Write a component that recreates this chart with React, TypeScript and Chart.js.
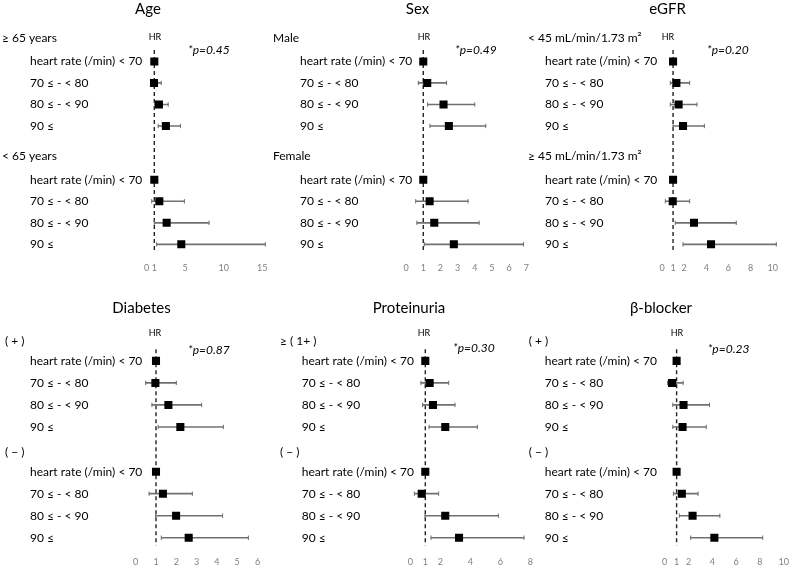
import React, { useEffect, useRef } from 'react';
import { Chart, registerables } from 'chart.js';

Chart.register(...registerables);

const FONT = 'Lato, "Noto Sans", sans-serif';

// rows repeated in every subgroup
const rowLabels = ['heart rate (/min) < 70', '70 ≤ - < 80', '80 ≤ - < 90', '90 ≤'];

// Age
const ageGroups = ['≥ 65 years', '< 65 years'];
const ageHR = [1.0, 0.96, 1.6, 2.5, 1.0, 1.65, 2.6, 4.5];
const ageLow = [null, 0.66, 1.05, 1.5, null, 0.66, 1.0, 1.3];
const ageHigh = [null, 1.9, 2.8, 4.4, null, 4.9, 8.1, 15.4];
const ageTicks = [0, 1, 5, 10, 15];

// Sex
const sexGroups = ['Male', 'Female'];
const sexHR = [1.0, 1.23, 2.18, 2.49, 1.0, 1.37, 1.64, 2.78];
const sexLow = [null, 0.71, 1.25, 1.39, null, 0.56, 0.63, 1.06];
const sexHigh = [null, 2.36, 4.0, 4.64, null, 3.61, 4.25, 6.84];
const sexTicks = [0, 1, 2, 3, 4, 5, 6, 7];

// eGFR
const egfrGroups = ['< 45 mL/min/1.73 m²', '≥ 45 mL/min/1.73 m²'];
const egfrHR = [1.0, 1.3, 1.5, 1.9, 1.0, 0.97, 2.89, 4.43];
const egfrLow = [null, 0.75, 0.75, 1.0, null, 0.3, 1.2, 1.9];
const egfrHigh = [null, 2.5, 3.16, 3.83, null, 2.5, 6.71, 10.33];
const egfrTicks = [0, 1, 2, 4, 6, 8, 10];

// Diabetes
const dmGroups = ['( + )', '( − )'];
const dmHR = [1.0, 0.97, 1.61, 2.2, 1.0, 1.34, 1.99, 2.61];
const dmLow = [null, 0.49, 0.8, 1.11, null, 0.66, 0.98, 1.26];
const dmHigh = [null, 2.0, 3.25, 4.32, null, 2.79, 4.28, 5.55];
const dmTicks = [0, 1, 2, 3, 4, 5, 6];

// Proteinuria
const protGroups = ['≥ ( 1+ )', '( − )'];
const protHR = [1.0, 1.29, 1.51, 2.33, 1.0, 0.76, 2.33, 3.25];
const protLow = [null, 0.71, 0.82, 1.25, null, 0.27, 0.98, 1.38];
const protHigh = [null, 2.56, 2.98, 4.47, null, 1.89, 5.87, 7.58];
const protTicks = [0, 1, 2, 4, 6, 8];

// beta-blocker
const bbGroups = ['( + )', '( − )'];
const bbHR = [1.0, 0.62, 1.58, 1.5, 1.0, 1.44, 2.34, 4.17];
const bbLow = [null, 0.24, 0.68, 0.68, null, 0.73, 1.23, 2.18];
const bbHigh = [null, 1.55, 3.76, 3.49, null, 2.8, 4.63, 8.23];
const bbTicks = [0, 1, 2, 4, 6, 8, 10];

// vertical geometry of the two panel rows (page pixels)
const topBand = { top: 0, height: 284, header: 33, unit: 22, lead: 1.09, gap: 1.41, tickY: 268, titleY: 9, hrY: 37 };
const bottomBand = { top: 284, height: 296, header: 336.7, unit: 22.5, lead: 0.89, gap: 1.14, tickY: 561.7, titleY: 307.7, hrY: 333.3 };

const panels = [
  { title: 'Age', groups: ageGroups, hr: ageHR, low: ageLow, high: ageHigh, ticks: ageTicks, maxV: 15.5, p: '*p=0.45',
    band: topBand, left: 0, width: 272, zeroX: 146.6, maxX: 266.1, titleX: 148, groupX: 2, rowX: 30, hrX: 155, pX: 188, pY: 50 },
  { title: 'Sex', groups: sexGroups, hr: sexHR, low: sexLow, high: sexHigh, ticks: sexTicks, maxV: 7, p: '*p=0.49',
    band: topBand, left: 262, width: 270, zeroX: 406.1, maxX: 526.7, titleX: 417.5, groupX: 273, rowX: 300, hrX: 424, pX: 455, pY: 50 },
  { title: 'eGFR', groups: egfrGroups, hr: egfrHR, low: egfrLow, high: egfrHigh, ticks: egfrTicks, maxV: 10.5, p: '*p=0.20',
    band: topBand, left: 522, width: 270, zeroX: 662, maxX: 778.2, titleX: 667.5, groupX: 528, rowX: 545, hrX: 668, pX: 707, pY: 50 },
  { title: 'Diabetes', groups: dmGroups, hr: dmHR, low: dmLow, high: dmHigh, ticks: dmTicks, maxV: 6, p: '*p=0.87',
    band: bottomBand, left: 0, width: 272, zeroX: 135.7, maxX: 257.5, titleX: 141.5, groupX: 5, rowX: 30, hrX: 155, pX: 188, pY: 350 },
  { title: 'Proteinuria', groups: protGroups, hr: protHR, low: protLow, high: protHigh, ticks: protTicks, maxV: 8, p: '*p=0.30',
    band: bottomBand, left: 262, width: 274, zeroX: 410.3, maxX: 530.3, titleX: 409, groupX: 280, rowX: 301.7, hrX: 424, pX: 453, pY: 348 },
  { title: 'β-blocker', groups: bbGroups, hr: bbHR, low: bbLow, high: bbHigh, ticks: bbTicks, maxV: 10, p: '*p=0.23',
    band: bottomBand, left: 522, width: 270, zeroX: 664.7, maxX: 787, titleX: 661, groupX: 528.7, rowX: 544.7, hrX: 677, pX: 707.7, pY: 349 },
];

type Panel = (typeof panels)[number];

function ForestPanel({ cfg }: { cfg: Panel }) {
  const canvasRef = useRef<HTMLCanvasElement>(null);

  useEffect(() => {
    if (!canvasRef.current) return;
    const b = cfg.band;
    const per = rowLabels.length;
    const step = b.lead + per - 1 + b.gap;
    const headerPos = (g: number) => g * step;
    const rowPos = (k: number) => Math.floor(k / per) * step + b.lead + (k % per);

    const axisBottom = b.tickY - 3 - 5.4;
    const yMin = -(b.header - b.top) / b.unit;
    const yMax = (axisBottom - b.header) / b.unit;
    const padBottom = b.top + b.height - axisBottom - 10.8 - 6;

    const ciData: any[] = [];
    const capData: any[] = [];
    cfg.hr.forEach((_, k) => {
      const lo = cfg.low[k];
      const hi = cfg.high[k];
      if (lo == null || hi == null) return;
      ciData.push({ x: [lo, hi], y: rowPos(k) });
      capData.push({ x: lo, y: rowPos(k) }, { x: hi, y: rowPos(k) });
    });
    const pointData = cfg.hr.map((v, k) => ({ x: v, y: rowPos(k) }));

    const forestText = {
      id: 'forestText',
      beforeDatasetsDraw(chart: any) {
        const { ctx, scales } = chart;
        const lx = scales.x.getPixelForValue(1);
        ctx.save();
        ctx.strokeStyle = '#222';
        ctx.lineWidth = 1.4;
        ctx.setLineDash([4, 3]);
        ctx.beginPath();
        ctx.moveTo(lx, scales.y.getPixelForValue(rowPos(0) - 0.53));
        ctx.lineTo(lx, scales.y.getPixelForValue(rowPos(cfg.hr.length - 1) + 0.35));
        ctx.stroke();
        ctx.restore();
      },
      afterDraw(chart: any) {
        const { ctx, scales } = chart;
        ctx.save();
        ctx.textBaseline = 'middle';
        ctx.fillStyle = '#000';
        ctx.textAlign = 'center';
        ctx.font = `15px ${FONT}`;
        ctx.fillText(cfg.title, cfg.titleX - cfg.left, b.titleY - b.top);

        ctx.textAlign = 'left';
        ctx.font = `12px ${FONT}`;
        cfg.groups.forEach((g, i) => {
          ctx.fillText(g, cfg.groupX - cfg.left, scales.y.getPixelForValue(headerPos(i)));
        });
        cfg.hr.forEach((_, k) => {
          ctx.fillText(rowLabels[k % per], cfg.rowX - cfg.left, scales.y.getPixelForValue(rowPos(k)));
        });

        ctx.textAlign = 'center';
        ctx.font = `9px ${FONT}`;
        ctx.fillText('HR', cfg.hrX - cfg.left, b.hrY - b.top);

        ctx.textAlign = 'left';
        ctx.font = `italic 12px ${FONT}`;
        ctx.fillText(cfg.p, cfg.pX - cfg.left, cfg.pY - b.top);
        ctx.restore();
      },
    };

    const chart = new Chart(canvasRef.current, {
      type: 'bar',
      data: {
        datasets: [
          {
            type: 'scatter',
            data: pointData,
            pointStyle: 'rect',
            pointRadius: 5.7,
            backgroundColor: '#000',
            borderWidth: 0,
          } as any,
          {
            type: 'scatter',
            data: capData,
            pointStyle: 'line',
            rotation: 90,
            pointRadius: 2.2,
            borderColor: '#707070',
            borderWidth: 1,
          } as any,
          {
            type: 'bar',
            data: ciData,
            backgroundColor: '#707070',
            borderWidth: 0,
            barThickness: 1,
          } as any,
        ],
      },
      options: {
        animation: false,
        responsive: false,
        indexAxis: 'y',
        layout: {
          padding: {
            left: cfg.zeroX - cfg.left,
            right: cfg.left + cfg.width - cfg.maxX,
            top: 0,
            bottom: padBottom,
          },
        },
        plugins: {
          legend: { display: false },
          tooltip: { enabled: false },
          title: { display: false },
        },
        scales: {
          x: {
            type: 'linear',
            min: 0,
            max: cfg.maxV,
            offset: false,
            grid: { display: false, drawTicks: false },
            border: { display: false },
            afterBuildTicks: (s: any) => {
              s.ticks = cfg.ticks.map((v) => ({ value: v }));
            },
            ticks: {
              color: '#808080',
              font: { family: FONT, size: 9, lineHeight: 1.2 },
              padding: 3,
              autoSkip: false,
              maxRotation: 0,
              callback: (v: any) => String(v),
            },
          },
          y: {
            type: 'linear',
            reverse: true,
            offset: false,
            min: yMin,
            max: yMax,
            display: false,
          },
        },
      } as any,
      plugins: [forestText],
    });

    return () => chart.destroy();
  }, [cfg]);

  return (
    <canvas
      ref={canvasRef}
      width={cfg.width}
      height={cfg.band.height}
      style={{
        position: 'absolute',
        left: cfg.left,
        top: cfg.band.top,
        width: cfg.width,
        height: cfg.band.height,
      }}
    />
  );
}

export default function App() {
  return (
    <div
      style={{
        position: 'fixed',
        left: 0,
        top: 0,
        width: 792,
        height: 568,
        overflow: 'hidden',
        background: '#fff',
      }}
    >
      {panels.map((p) => (
        <ForestPanel key={p.title} cfg={p} />
      ))}
    </div>
  );
}
